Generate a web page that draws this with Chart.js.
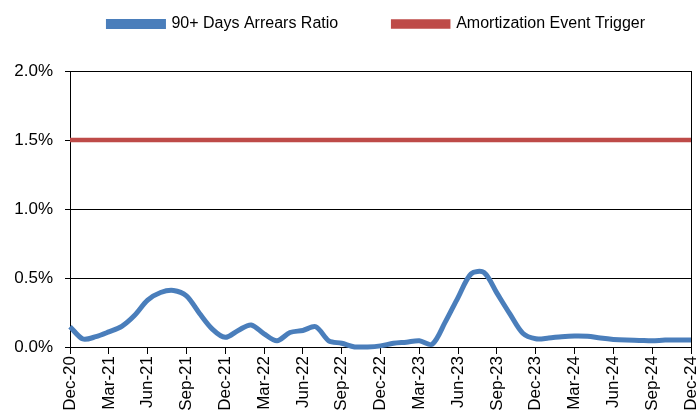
<!DOCTYPE html>
<html>
<head>
<meta charset="utf-8">
<script src="https://cdn.jsdelivr.net/npm/chart.js@4/dist/chart.umd.min.js"></script>
<style>
  html, body { margin: 0; padding: 0; background: #fff; }
  #wrap { width: 700px; height: 417px; }
</style>
</head>
<body>
<div id="wrap"><canvas id="arrearsChart" width="700" height="417"></canvas></div>
<script>
// monthly, Dec-20 .. Dec-24
const months = [
  "Dec-20", "Jan-21", "Feb-21", "Mar-21", "Apr-21", "May-21", "Jun-21", "Jul-21", "Aug-21", "Sep-21", "Oct-21", "Nov-21",
  "Dec-21", "Jan-22", "Feb-22", "Mar-22", "Apr-22", "May-22", "Jun-22", "Jul-22", "Aug-22", "Sep-22", "Oct-22", "Nov-22",
  "Dec-22", "Jan-23", "Feb-23", "Mar-23", "Apr-23", "May-23", "Jun-23", "Jul-23", "Aug-23", "Sep-23", "Oct-23", "Nov-23",
  "Dec-23", "Jan-24", "Feb-24", "Mar-24", "Apr-24", "May-24", "Jun-24", "Jul-24", "Aug-24", "Sep-24", "Oct-24", "Nov-24",
  "Dec-24"
];

// values in percent
const arrearsRatio = [
  0.147, 0.058, 0.075, 0.11, 0.15, 0.23, 0.34, 0.395, 0.41, 0.37, 0.245, 0.13,
  0.07, 0.12, 0.16, 0.095, 0.045, 0.105, 0.12, 0.147, 0.045, 0.027, 0.0, 0.0,
  0.008, 0.027, 0.035, 0.045, 0.02, 0.18, 0.36, 0.53, 0.54, 0.39, 0.24, 0.10,
  0.06, 0.065, 0.075, 0.08, 0.078, 0.065, 0.055, 0.05, 0.048, 0.045, 0.05, 0.05,
  0.05
];

const triggerLevel = months.map(() => 1.5);

const yTicks = [0, 0.5, 1.0, 1.5, 2.0];

const BLUE = "#4a7ebb";
const RED = "#be4b48";

// right edge of the plot box
const frameRight = {
  id: "frameRight",
  afterDatasetsDraw(chart) {
    const { ctx, chartArea } = chart;
    ctx.save();
    ctx.strokeStyle = "#000";
    ctx.lineWidth = 1;
    ctx.beginPath();
    ctx.moveTo(chartArea.right + 0.5, chartArea.top);
    ctx.lineTo(chartArea.right + 0.5, chartArea.bottom);
    ctx.stroke();
    ctx.restore();
  }
};

new Chart(document.getElementById("arrearsChart"), {
  type: "line",
  data: {
    labels: months,
    datasets: [
      {
        label: "90+ Days Arrears Ratio",
        data: arrearsRatio,
        xAxisID: "x",
        borderColor: BLUE,
        backgroundColor: BLUE,
        borderWidth: 5,
        pointRadius: 0,
        tension: 0.3,
        clip: false
      },
      {
        label: "Amortization Event Trigger",
        data: triggerLevel,
        xAxisID: "x",
        borderColor: RED,
        backgroundColor: RED,
        borderWidth: 4.5,
        pointRadius: 0,
        tension: 0
      }
    ]
  },
  options: {
    responsive: false,
    animation: false,
    layout: { padding: { top: -39, right: 0, left: 0, bottom: 0 } },
    plugins: {
      tooltip: { enabled: false },
      legend: {
        position: "top",
        align: "end",
        labels: {
          color: "#000",
          font: { family: "Liberation Sans, Arial", size: 16 },
          boxWidth: 55,
          boxHeight: 5,
          padding: 55
        }
      }
    },
    scales: {
      x: {
        type: "category",
        offset: false,
        afterFit(scale) {
          scale.height = 70;
          scale.paddingLeft = 0;
          scale.paddingRight = 9;
        },
        grid: {
          drawOnChartArea: false,
          tickLength: 7,
          tickColor: (c) => (c.index % 3 === 0 ? "#000" : "rgba(0,0,0,0)")
        },
        border: { color: "#000", width: 1 },
        ticks: {
          autoSkip: false,
          maxRotation: 90,
          minRotation: 90,
          color: "#000",
          padding: 2,
          font: { family: "Liberation Sans, Arial", size: 17 },
          callback: (v, i) => (i % 3 === 0 ? months[i] : "")
        }
      },
      // empty band between legend and plot
      gap: {
        type: "category",
        position: "top",
        offset: false,
        afterFit(scale) { scale.height = 29; },
        grid: { display: false },
        border: { display: false },
        ticks: { display: false }
      },
      y: {
        min: 0,
        max: 2.0,
        afterFit(scale) { scale.width = 70; },
        afterBuildTicks(scale) { scale.ticks = yTicks.map((v) => ({ value: v })); },
        grid: {
          color: "#000",
          lineWidth: 1,
          tickLength: 5,
          tickColor: "#000"
        },
        border: { color: "#000", width: 1 },
        ticks: {
          color: "#000",
          padding: 12,
          font: { family: "Liberation Sans, Arial", size: 17 },
          callback: (v) => v.toFixed(1) + "%"
        }
      }
    }
  },
  plugins: [frameRight]
});
</script>
</body>
</html>
